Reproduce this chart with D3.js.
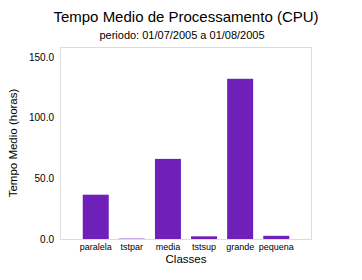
<!DOCTYPE html>
<html><head><meta charset="utf-8">
<script src="https://cdn.jsdelivr.net/npm/d3@7"></script>
<style>body{margin:0;background:#fff}svg{display:block}text{font-family:"Liberation Sans",Arial,sans-serif;fill:#000}</style>
</head><body>
<script>
const categories = ["paralela","tstpar","media","tstsup","grande","pequena"];
const values = [36.5, 0.3, 66.0, 2.2, 132.0, 2.6];
const yTicks = [0, 50, 100, 150];
const title = "Tempo Medio de Processamento (CPU)";
const subtitle = "periodo: 01/07/2005 a 01/08/2005";
const xTitle = "Classes";
const yTitle = "Tempo Medio (horas)";

const W = 362, H = 280;
const m = {left: 60, right: 50, top: 47, bottom: 41};
const svg = d3.select("body").append("svg").attr("width", W).attr("height", H);

const x = d3.scaleBand().domain(categories).range([m.left, W - m.right]).paddingInner(0.28).paddingOuter(0.63);
const y = d3.scaleLinear().domain([0, 158.2]).range([H - m.bottom, m.top]);

svg.append("text").attr("x", 186).attr("y", 22).attr("text-anchor", "middle").style("font-size", "15px").text(title);
svg.append("text").attr("x", 182).attr("y", 39).attr("text-anchor", "middle").style("font-size", "11px").text(subtitle);

// frame
svg.append("rect").attr("x", m.left + 0.5).attr("y", m.top + 0.5)
  .attr("width", W - m.left - m.right - 1).attr("height", H - m.top - m.bottom)
  .attr("fill", "none").attr("stroke", "#dcdcdc");

svg.selectAll("rect.bar").data(values).join("rect").attr("class", "bar")
  .attr("x", (d, i) => x(categories[i])).attr("width", x.bandwidth())
  .attr("y", d => y(d)).attr("height", d => y(0) - y(d))
  .attr("fill", "#6f20b8");

const yAxis = svg.append("g").attr("transform", `translate(${m.left},0)`)
  .call(d3.axisLeft(y).tickValues(yTicks).tickFormat(d3.format(".1f")).tickSize(0).tickPadding(6));
yAxis.select(".domain").remove();
yAxis.selectAll("text").style("font-size", "10px").attr("fill", "#000");

const xAxis = svg.append("g").attr("transform", `translate(0,${H - m.bottom})`)
  .call(d3.axisBottom(x).tickSize(0).tickPadding(5));
xAxis.select(".domain").remove();
xAxis.selectAll("text").style("font-size", "9px").attr("fill", "#000");

svg.append("text").attr("x", 186).attr("y", 263).attr("text-anchor", "middle").style("font-size", "11.5px").text(xTitle);
svg.append("text").attr("transform", `translate(17,${(m.top + H - m.bottom) / 2}) rotate(-90)`)
  .attr("text-anchor", "middle").style("font-size", "11.5px").text(yTitle);
</script>
</body></html>
